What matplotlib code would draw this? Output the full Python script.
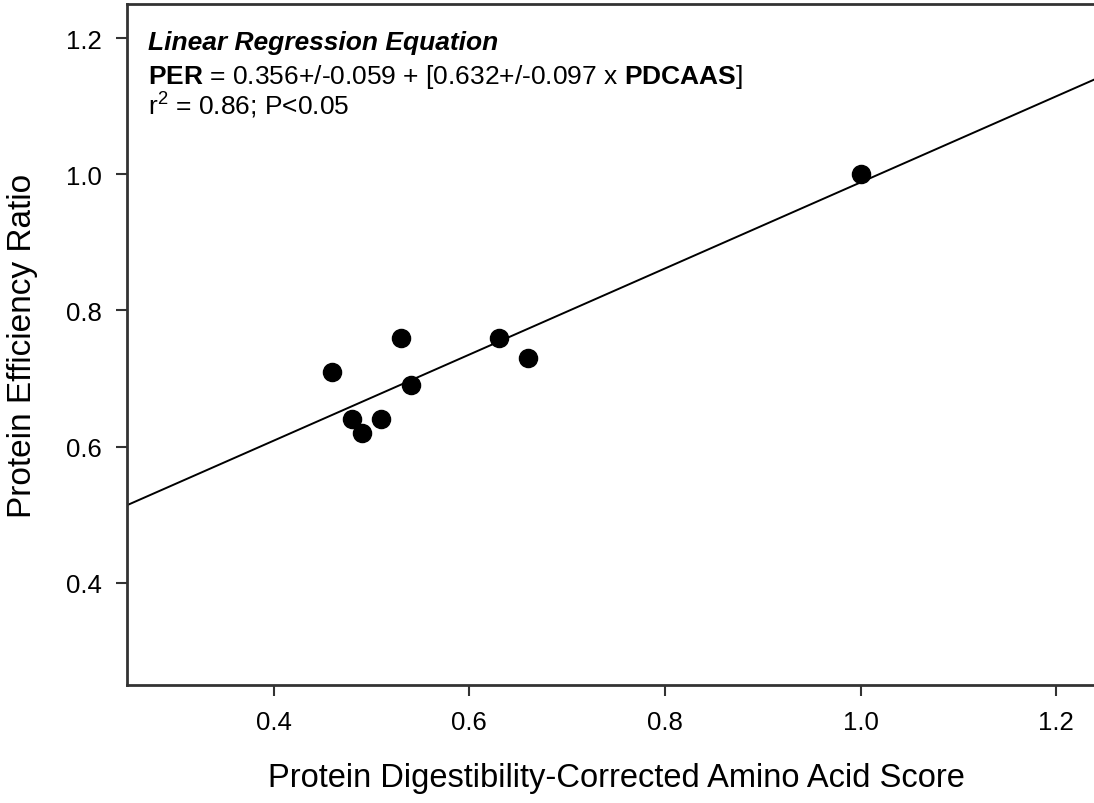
import numpy as np
import matplotlib.pyplot as plt

plt.rcParams['font.family'] = ['Liberation Sans', 'DejaVu Sans']
plt.rcParams['mathtext.fontset'] = 'custom'
plt.rcParams['mathtext.rm'] = 'Liberation Sans'
plt.rcParams['mathtext.bf'] = 'Liberation Sans:bold'
plt.rcParams['mathtext.it'] = 'Liberation Sans:italic'

# data
pdcaas = [0.46, 0.48, 0.49, 0.51, 0.53, 0.54, 0.63, 0.66, 1.00]
per = [0.71, 0.64, 0.62, 0.64, 0.76, 0.69, 0.76, 0.73, 1.00]
intercept = 0.356
slope = 0.632
xticks = [0.4, 0.6, 0.8, 1.0, 1.2]
yticks = [0.4, 0.6, 0.8, 1.0, 1.2]

fig = plt.figure(figsize=(10.94, 8.04), dpi=100)
ax = fig.add_axes([127 / 1094, 118 / 804, 978 / 1094, 681 / 804])

xl = np.array([0.25, 1.25])
ax.plot(xl, intercept + slope * xl, color='black', lw=1.4, zorder=2)
ax.scatter(pdcaas, per, s=170, color='black', zorder=3)

ax.set_xlim(0.25, 1.25)
ax.set_ylim(0.25, 1.25)
ax.set_xticks(xticks)
ax.set_yticks(yticks)
ax.set_xticklabels([f"{v:.1f}" for v in xticks])
ax.set_yticklabels([f"{v:.1f}" for v in yticks])
ax.tick_params(direction='out', length=8, width=1.5, labelsize=18.5, pad=10, color='#333333')

for s in ax.spines.values():
    s.set_linewidth(2)
    s.set_color('#333333')

ax.set_xlabel("Protein Digestibility-Corrected Amino Acid Score", fontsize=23.5, labelpad=20)
ax.set_ylabel("Protein Efficiency Ratio", fontsize=24, labelpad=20)

ax.text(0.021, 0.934, "Linear Regression Equation", transform=ax.transAxes,
        fontsize=19, fontweight='bold', fontstyle='italic', va='baseline')
ax.text(0.021, 0.884, r"$\mathbf{PER}$ = 0.356+/-0.059 + [0.632+/-0.097 x $\mathbf{PDCAAS}$]",
        transform=ax.transAxes, fontsize=19, va='baseline')
ax.text(0.021, 0.838, r"r$^2$ = 0.86; P<0.05", transform=ax.transAxes, fontsize=19, va='baseline')

fig.savefig("out.png", dpi=100)
